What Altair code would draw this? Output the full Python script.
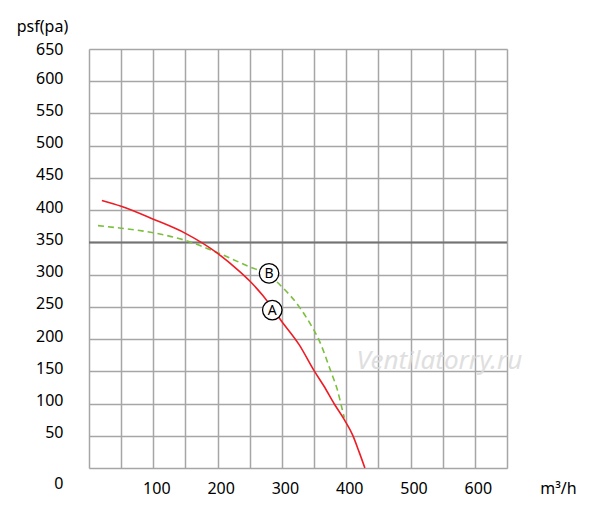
import altair as alt
import pandas as pd

# Curve A (red, solid)
a_flow = [20, 50, 100, 150, 200, 234, 250, 270, 300, 327, 350, 366, 381, 397, 410, 420, 429]
a_pres = [415, 406, 386, 364, 333, 305, 290, 268, 227, 191, 151, 126, 100, 75, 51, 25, 0]

# Curve B (green, dashed)
b_flow = [14, 50, 100, 150, 200, 234, 250, 280, 299, 327, 345, 357, 376, 386, 394, 397]
b_pres = [376, 372, 365, 353, 334, 319, 312, 299, 282, 250, 222, 200, 150, 122, 90, 78]

# Curve markers
mark_names = ["A", "B"]
mark_flow = [285, 280]
mark_pres = [245, 302]

ref_level = [350]
grid_vals = list(range(0, 651, 50))

FONT = "Noto Sans"

df_a = pd.DataFrame({"flow": a_flow, "pres": a_pres})
df_b = pd.DataFrame({"flow": b_flow, "pres": b_pres})
df_m = pd.DataFrame({"name": mark_names, "flow": mark_flow, "pres": mark_pres})
df_r = pd.DataFrame({"pres": ref_level})
df_w = pd.DataFrame({"t": ["Ventilatorry.ru"], "flow": [545], "pres": [166]})

xscale = alt.Scale(domain=[0, 650], nice=False, zero=False)
yscale = alt.Scale(domain=[0, 650], nice=False, zero=False)

xaxis = alt.Axis(
    values=grid_vals, grid=True, gridColor="#a6a6a6", gridWidth=1.5,
    domain=False, ticks=False, labelOverlap=False, labelFlush=False,
    labelExpr="datum.value % 100 === 0 && datum.value > 0 && datum.value < 650 ? datum.label : ''",
    labelFont=FONT, labelFontSize=16, labelColor="#000", labelPadding=20,
    labelBaseline="middle", labelOffset=3,
    title="m³/h", titleFont=FONT, titleFontSize=16, titleFontWeight="normal",
    titleColor="#000", titleX=469, titleY=20, titleBaseline="middle", titleAlign="center",
)
yaxis = alt.Axis(
    values=grid_vals, grid=True, gridColor="#a6a6a6", gridWidth=1.5,
    domain=False, ticks=False, labelOverlap=False, labelFlush=False,
    labelFont=FONT, labelFontSize=16, labelColor="#000", labelPadding=26,
    labelBaseline="middle",
    labelOffset=alt.ExprRef(expr="datum.value === 0 ? 15 : (datum.value === 650 ? 0 : -3)"),
    title="psf(pa)", titleFont=FONT, titleFontSize=16, titleFontWeight="normal",
    titleColor="#000", titleAngle=0, titleX=-47, titleY=-23,
    titleBaseline="middle", titleAlign="center",
)

X = alt.X("flow:Q", scale=xscale, axis=xaxis)
Y = alt.Y("pres:Q", scale=yscale, axis=yaxis)

rule = alt.Chart(df_r).mark_rule(color="#737373", strokeWidth=2).encode(y=Y)

watermark = alt.Chart(df_w).mark_text(
    font=FONT, fontSize=26, fontStyle="italic", color="#dcdcdc", opacity=0.9
).encode(x=X, y=Y, text="t:N")

line_b = alt.Chart(df_b).mark_line(
    color="#7cbf3f", strokeWidth=1.6, strokeDash=[6, 4], interpolate="monotone"
).encode(x=X, y=Y, order="flow:Q")

line_a = alt.Chart(df_a).mark_line(
    color="#ee1c25", strokeWidth=1.6, interpolate="monotone"
).encode(x=X, y=Y, order="flow:Q")

circles = alt.Chart(df_m).mark_point(
    shape="circle", filled=True, fill="white", stroke="black", strokeWidth=1.3, size=380, opacity=1
).encode(x=X, y=Y)

letters = alt.Chart(df_m).mark_text(font=FONT, fontSize=14, color="black", dy=0.5).encode(
    x=X, y=Y, text="name:N"
)

chart = alt.layer(rule, watermark, line_b, line_a, circles, letters).properties(
    width=418, height=419,
    autosize=alt.AutoSizeParams(type="none"),
    padding={"left": 81, "top": 41, "right": 85, "bottom": 46},
).configure_view(stroke=None).configure(background="white")

chart.save("out.html", embed_options={"renderer": "svg", "actions": False})
